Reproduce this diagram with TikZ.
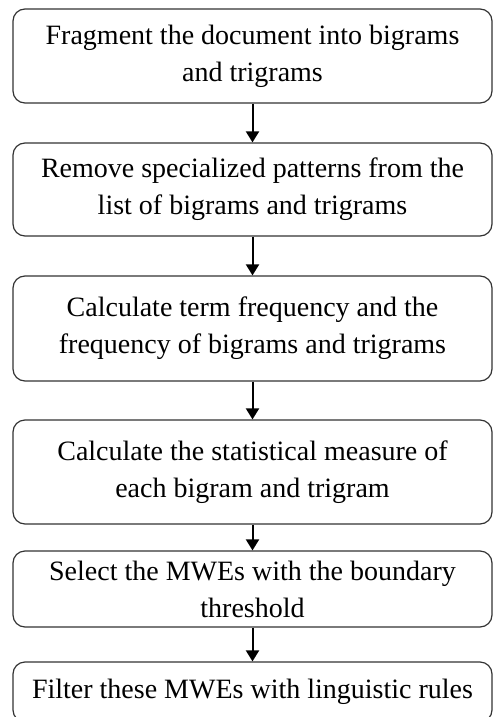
\documentclass[tikz,border=0pt]{standalone}
\usepackage{fontspec}
\setmainfont{Liberation Serif}
\usetikzlibrary{arrows.meta}

\begin{document}
\begin{tikzpicture}[x=1pt, y=-1pt,
    stepbox/.style={draw=black!80, line width=1.2pt, rounded corners=12pt,
      minimum width=479pt, inner sep=0pt, align=center,
      font=\fontsize{28}{37}\selectfont},
    flow/.style={-{Triangle[length=11pt,width=13pt]}, line width=2pt}]

    \useasboundingbox (0,0) rectangle (493,717);
    \clip (0,0) rectangle (493,717);

    \def\xc{252.5}
    \node [stepbox, minimum height=94pt]  (fragment)  at (\xc, 56)    {Fragment the document into bigrams\\and trigrams};
    \node [stepbox, minimum height=93pt]  (remove)    at (\xc, 189.5) {Remove specialized patterns from the\\list of bigrams and trigrams};
    \node [stepbox, minimum height=105pt] (termfreq)  at (\xc, 328.5) {Calculate term frequency and the\\frequency of bigrams and trigrams};
    \node [stepbox, minimum height=104pt] (measure)   at (\xc, 472)   {Calculate the statistical measure of\\each bigram and trigram};
    \node [stepbox, minimum height=76pt]  (select)    at (\xc, 589)   {Select the MWEs with the boundary\\threshold};
    \node [stepbox, minimum height=60pt]  (filter)    at (\xc, 692)   {Filter these MWEs with linguistic rules};

    \draw [flow] (fragment) -- (remove);
    \draw [flow] (remove) -- (termfreq);
    \draw [flow] (termfreq) -- (measure);
    \draw [flow] (measure) -- (select);
    \draw [flow] (select) -- (filter);

\end{tikzpicture}
\end{document}
